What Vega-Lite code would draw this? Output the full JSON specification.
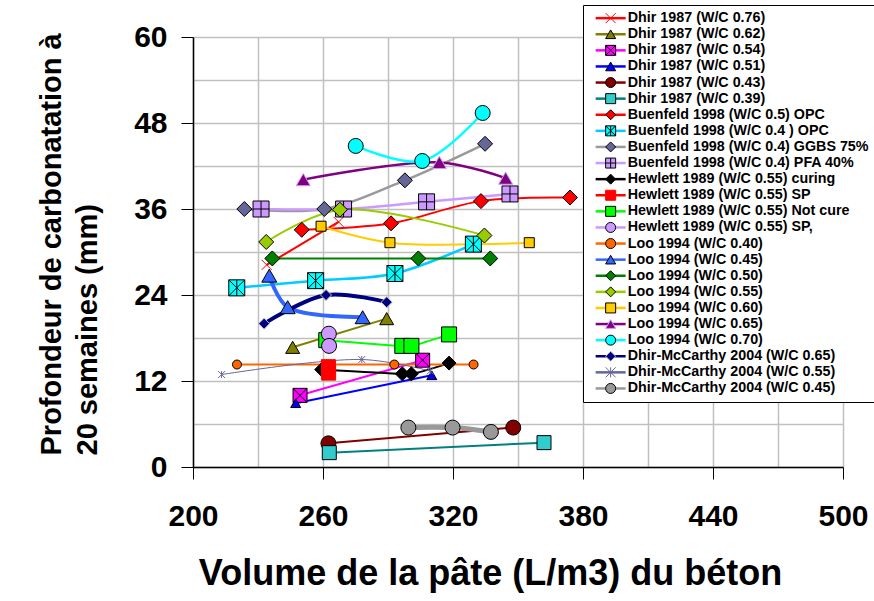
{
  "$schema": "https://vega.github.io/schema/vega-lite/v6.json",
  "width": 650,
  "height": 430,
  "autosize": {"type": "none"},
  "padding": {"left": 193, "top": 37, "right": 31, "bottom": 134},
  "background": "white",
  "config": {"view": {"stroke": null}, "font": "Liberation Sans"},
  "data": {"values": [
    {"series": "Dhir 1987 (W/C 0.76)", "name": "Dhir 1987 (W/C 0.76)", "x": 234.0, "y": 28.2},
    {"series": "Dhir 1987 (W/C 0.76)", "name": "Dhir 1987 (W/C 0.76)", "x": 267.2, "y": 34.2},
    {"series": "Dhir 1987 (W/C 0.62)", "name": "Dhir 1987 (W/C 0.62)", "x": 246.0, "y": 16.7},
    {"series": "Dhir 1987 (W/C 0.62)", "name": "Dhir 1987 (W/C 0.62)", "x": 289.4, "y": 20.7},
    {"series": "Dhir 1987 (W/C 0.54)", "name": "Dhir 1987 (W/C 0.54)", "x": 249.4, "y": 10.0},
    {"series": "Dhir 1987 (W/C 0.54)", "name": "Dhir 1987 (W/C 0.54)", "x": 306.0, "y": 14.9},
    {"series": "Dhir 1987 (W/C 0.51)", "name": "Dhir 1987 (W/C 0.51)", "x": 247.4, "y": 8.9},
    {"series": "Dhir 1987 (W/C 0.51)", "name": "Dhir 1987 (W/C 0.51)", "x": 310.2, "y": 12.8},
    {"series": "Dhir 1987 (W/C 0.43)", "name": "Dhir 1987 (W/C 0.43)", "x": 262.5, "y": 3.3},
    {"series": "Dhir 1987 (W/C 0.43)", "name": "Dhir 1987 (W/C 0.43)", "x": 347.8, "y": 5.5},
    {"series": "Dhir 1987 (W/C 0.39)", "name": "Dhir 1987 (W/C 0.39)", "x": 262.9, "y": 2.0},
    {"series": "Dhir 1987 (W/C 0.39)", "name": "Dhir 1987 (W/C 0.39)", "x": 362.0, "y": 3.4},
    {"series": "Buenfeld 1998 (W/C 0.5) OPC", "name": "Buenfeld 1998 (W/C 0.5) OPC", "x": 250.2, "y": 33.1},
    {"series": "Buenfeld 1998 (W/C 0.5) OPC", "name": "Buenfeld 1998 (W/C 0.5) OPC", "x": 291.4, "y": 34.0},
    {"series": "Buenfeld 1998 (W/C 0.5) OPC", "name": "Buenfeld 1998 (W/C 0.5) OPC", "x": 332.9, "y": 37.1},
    {"series": "Buenfeld 1998 (W/C 0.5) OPC", "name": "Buenfeld 1998 (W/C 0.5) OPC", "x": 374.0, "y": 37.6},
    {"series": "Buenfeld 1998 (W/C 0.4 ) OPC", "name": "Buenfeld 1998 (W/C 0.4 ) OPC", "x": 220.2, "y": 25.0},
    {"series": "Buenfeld 1998 (W/C 0.4 ) OPC", "name": "Buenfeld 1998 (W/C 0.4 ) OPC", "x": 256.6, "y": 26.0},
    {"series": "Buenfeld 1998 (W/C 0.4 ) OPC", "name": "Buenfeld 1998 (W/C 0.4 ) OPC", "x": 293.2, "y": 27.0},
    {"series": "Buenfeld 1998 (W/C 0.4 ) OPC", "name": "Buenfeld 1998 (W/C 0.4 ) OPC", "x": 329.4, "y": 31.1},
    {"series": "Buenfeld 1998 (W/C 0.4) GGBS 75%", "name": "Buenfeld 1998 (W/C 0.4) GGBS 75%", "x": 223.7, "y": 36.0},
    {"series": "Buenfeld 1998 (W/C 0.4) GGBS 75%", "name": "Buenfeld 1998 (W/C 0.4) GGBS 75%", "x": 260.6, "y": 36.0},
    {"series": "Buenfeld 1998 (W/C 0.4) GGBS 75%", "name": "Buenfeld 1998 (W/C 0.4) GGBS 75%", "x": 297.8, "y": 40.0},
    {"series": "Buenfeld 1998 (W/C 0.4) GGBS 75%", "name": "Buenfeld 1998 (W/C 0.4) GGBS 75%", "x": 334.8, "y": 45.1},
    {"series": "Buenfeld 1998 (W/C 0.4) PFA 40%", "name": "Buenfeld 1998 (W/C 0.4) PFA 40%", "x": 231.4, "y": 36.0},
    {"series": "Buenfeld 1998 (W/C 0.4) PFA 40%", "name": "Buenfeld 1998 (W/C 0.4) PFA 40%", "x": 269.5, "y": 36.0},
    {"series": "Buenfeld 1998 (W/C 0.4) PFA 40%", "name": "Buenfeld 1998 (W/C 0.4) PFA 40%", "x": 307.8, "y": 37.0},
    {"series": "Buenfeld 1998 (W/C 0.4) PFA 40%", "name": "Buenfeld 1998 (W/C 0.4) PFA 40%", "x": 346.3, "y": 38.1},
    {"series": "Hewlett 1989 (W/C 0.55) curing", "name": "Hewlett 1989 (W/C 0.55) curing", "x": 259.4, "y": 13.6},
    {"series": "Hewlett 1989 (W/C 0.55) curing", "name": "Hewlett 1989 (W/C 0.55) curing", "x": 296.6, "y": 13.0},
    {"series": "Hewlett 1989 (W/C 0.55) curing", "name": "Hewlett 1989 (W/C 0.55) curing", "x": 300.8, "y": 13.0},
    {"series": "Hewlett 1989 (W/C 0.55) curing", "name": "Hewlett 1989 (W/C 0.55) curing", "x": 318.2, "y": 14.5},
    {"series": "Hewlett 1989 (W/C 0.55) SP", "name": "Hewlett 1989 (W/C 0.55) SP", "x": 262.5, "y": 14.0},
    {"series": "Hewlett 1989 (W/C 0.55) SP", "name": "Hewlett 1989 (W/C 0.55) SP", "x": 262.6, "y": 13.1},
    {"series": "Hewlett 1989 (W/C 0.55) Not cure", "name": "Hewlett 1989 (W/C 0.55) Not cure", "x": 261.5, "y": 17.7},
    {"series": "Hewlett 1989 (W/C 0.55) Not cure", "name": "Hewlett 1989 (W/C 0.55) Not cure", "x": 296.6, "y": 16.9},
    {"series": "Hewlett 1989 (W/C 0.55) Not cure", "name": "Hewlett 1989 (W/C 0.55) Not cure", "x": 300.8, "y": 16.9},
    {"series": "Hewlett 1989 (W/C 0.55) Not cure", "name": "Hewlett 1989 (W/C 0.55) Not cure", "x": 318.2, "y": 18.5},
    {"series": "Hewlett 1989 (W/C 0.55) SP,", "name": "Hewlett 1989 (W/C 0.55) SP,", "x": 262.7, "y": 18.6},
    {"series": "Hewlett 1989 (W/C 0.55) SP,", "name": "Hewlett 1989 (W/C 0.55) SP,", "x": 262.8, "y": 16.9},
    {"series": "Loo 1994 (W/C 0.40)", "name": "Loo 1994 (W/C 0.40)", "x": 220.3, "y": 14.3},
    {"series": "Loo 1994 (W/C 0.40)", "name": "Loo 1994 (W/C 0.40)", "x": 292.9, "y": 14.3},
    {"series": "Loo 1994 (W/C 0.40)", "name": "Loo 1994 (W/C 0.40)", "x": 329.5, "y": 14.3},
    {"series": "Loo 1994 (W/C 0.45)", "name": "Loo 1994 (W/C 0.45)", "x": 235.2, "y": 26.7},
    {"series": "Loo 1994 (W/C 0.45)", "name": "Loo 1994 (W/C 0.45)", "x": 243.7, "y": 22.3},
    {"series": "Loo 1994 (W/C 0.45)", "name": "Loo 1994 (W/C 0.45)", "x": 278.3, "y": 20.9},
    {"series": "Loo 1994 (W/C 0.50)", "name": "Loo 1994 (W/C 0.50)", "x": 236.6, "y": 29.1},
    {"series": "Loo 1994 (W/C 0.50)", "name": "Loo 1994 (W/C 0.50)", "x": 304.0, "y": 29.1},
    {"series": "Loo 1994 (W/C 0.50)", "name": "Loo 1994 (W/C 0.50)", "x": 337.2, "y": 29.1},
    {"series": "Loo 1994 (W/C 0.55)", "name": "Loo 1994 (W/C 0.55)", "x": 233.8, "y": 31.4},
    {"series": "Loo 1994 (W/C 0.55)", "name": "Loo 1994 (W/C 0.55)", "x": 267.8, "y": 35.9},
    {"series": "Loo 1994 (W/C 0.55)", "name": "Loo 1994 (W/C 0.55)", "x": 334.5, "y": 32.3},
    {"series": "Loo 1994 (W/C 0.60)", "name": "Loo 1994 (W/C 0.60)", "x": 259.1, "y": 33.6},
    {"series": "Loo 1994 (W/C 0.60)", "name": "Loo 1994 (W/C 0.60)", "x": 290.9, "y": 31.3},
    {"series": "Loo 1994 (W/C 0.60)", "name": "Loo 1994 (W/C 0.60)", "x": 355.2, "y": 31.3},
    {"series": "Loo 1994 (W/C 0.65)", "name": "Loo 1994 (W/C 0.65)", "x": 250.9, "y": 40.1},
    {"series": "Loo 1994 (W/C 0.65)", "name": "Loo 1994 (W/C 0.65)", "x": 313.7, "y": 42.5},
    {"series": "Loo 1994 (W/C 0.65)", "name": "Loo 1994 (W/C 0.65)", "x": 344.3, "y": 40.3},
    {"series": "Loo 1994 (W/C 0.70)", "name": "Loo 1994 (W/C 0.70)", "x": 275.1, "y": 44.8},
    {"series": "Loo 1994 (W/C 0.70)", "name": "Loo 1994 (W/C 0.70)", "x": 305.8, "y": 42.7},
    {"series": "Loo 1994 (W/C 0.70)", "name": "Loo 1994 (W/C 0.70)", "x": 333.7, "y": 49.4},
    {"series": "Dhir-McCarthy 2004 (W/C 0.65)", "name": "Dhir-McCarthy 2004 (W/C 0.65)", "x": 232.8, "y": 20.0},
    {"series": "Dhir-McCarthy 2004 (W/C 0.65)", "name": "Dhir-McCarthy 2004 (W/C 0.65)", "x": 261.4, "y": 24.0},
    {"series": "Dhir-McCarthy 2004 (W/C 0.65)", "name": "Dhir-McCarthy 2004 (W/C 0.65)", "x": 289.4, "y": 23.0},
    {"series": "Dhir-McCarthy 2004 (W/C 0.55)", "name": "Dhir-McCarthy 2004 (W/C 0.55)", "x": 213.2, "y": 12.9},
    {"series": "Dhir-McCarthy 2004 (W/C 0.55)", "name": "Dhir-McCarthy 2004 (W/C 0.55)", "x": 277.9, "y": 15.0},
    {"series": "Dhir-McCarthy 2004 (W/C 0.55)", "name": "Dhir-McCarthy 2004 (W/C 0.55)", "x": 309.5, "y": 13.4},
    {"series": "Dhir-McCarthy 2004 (W/C 0.45)", "name": "Dhir-McCarthy 2004 (W/C 0.45)", "x": 299.4, "y": 5.5},
    {"series": "Dhir-McCarthy 2004 (W/C 0.45)", "name": "Dhir-McCarthy 2004 (W/C 0.45)", "x": 319.8, "y": 5.5},
    {"series": "Dhir-McCarthy 2004 (W/C 0.45)", "name": "Dhir-McCarthy 2004 (W/C 0.45)", "x": 337.5, "y": 4.9}
  ]},
  "encoding": {
    "x": {
      "field": "x", "type": "quantitative",
      "scale": {"domain": [200, 500], "nice": false, "zero": false},
      "axis": {
        "values": [200, 230, 260, 290, 320, 350, 380, 410, 440, 470, 500],
        "labelExpr": "datum.value % 60 == 20 ? datum.label : ''",
        "grid": true, "gridColor": "#c0c0c0", "gridWidth": 1.5,
        "domainColor": "black", "domainWidth": 1.5,
        "tickColor": "black", "tickSize": 12, "tickWidth": 1,
        "tickOpacity": {"condition": {"test": "datum.value % 60 == 20", "value": 1}, "value": 0},
        "labelFont": "Liberation Sans", "labelFontSize": 30, "labelFontWeight": "bold", "labelColor": "black",
        "labelPadding": 22, "labelFlush": false, "labelOverlap": false,
        "title": "Volume de la pâte (L/m3) du béton",
        "titleFont": "Liberation Sans", "titleFontSize": 36, "titleFontWeight": "bold", "titleColor": "black",
        "titleX": 297, "titleY": 117, "titleAlign": "center", "titleBaseline": "alphabetic"
      }
    },
    "y": {
      "field": "y", "type": "quantitative",
      "scale": {"domain": [0, 60], "nice": false},
      "axis": {
        "values": [0, 6, 12, 18, 24, 30, 36, 42, 48, 54, 60],
        "labelExpr": "datum.value % 12 == 0 ? datum.label : ''",
        "grid": true, "gridColor": "#c0c0c0", "gridWidth": 1.5,
        "domainColor": "black", "domainWidth": 1.5,
        "tickColor": "black", "tickSize": 12, "tickWidth": 1,
        "tickOpacity": {"condition": {"test": "datum.value % 12 == 0", "value": 1}, "value": 0},
        "labelFont": "Liberation Sans", "labelFontSize": 30, "labelFontWeight": "bold", "labelColor": "black",
        "labelPadding": 14, "labelFlush": false, "labelOverlap": false,
        "title": ["Profondeur de carbonatation à", "20 semaines (mm)"],
        "titleFont": "Liberation Sans", "titleFontSize": 29, "titleFontWeight": "bold", "titleColor": "black",
        "titleLineHeight": 36, "titleAngle": -90,
        "titleX": -142, "titleY": 418, "titleAlign": "left", "titleBaseline": "middle"
      }
    }
  },
  "layer": [
    {
      "mark": {"type": "line", "interpolate": "catmull-rom"},
      "encoding": {
        "color": {
          "field": "series", "type": "nominal",
          "sort": ["Dhir 1987 (W/C 0.76)", "Dhir 1987 (W/C 0.62)", "Dhir 1987 (W/C 0.54)", "Dhir 1987 (W/C 0.51)", "Dhir 1987 (W/C 0.43)", "Dhir 1987 (W/C 0.39)", "Buenfeld 1998 (W/C 0.5) OPC", "Buenfeld 1998 (W/C 0.4 ) OPC", "Buenfeld 1998 (W/C 0.4) GGBS 75%", "Buenfeld 1998 (W/C 0.4) PFA 40%", "Hewlett 1989 (W/C 0.55) curing", "Hewlett 1989 (W/C 0.55) SP", "Hewlett 1989 (W/C 0.55) Not cure", "Hewlett 1989 (W/C 0.55) SP,", "Loo 1994 (W/C 0.40)", "Loo 1994 (W/C 0.45)", "Loo 1994 (W/C 0.50)", "Loo 1994 (W/C 0.55)", "Loo 1994 (W/C 0.60)", "Loo 1994 (W/C 0.65)", "Loo 1994 (W/C 0.70)", "Dhir-McCarthy 2004 (W/C 0.65)", "Dhir-McCarthy 2004 (W/C 0.55)", "Dhir-McCarthy 2004 (W/C 0.45)"],
          "scale": {
            "range": ["#ff0000", "#808000", "#ff00ff", "#0000ff", "#800000", "#008080", "#ff0000", "#00ccff", "#999999", "#cc99ff", "#000000", "#ff0000", "#00ff00", "#cc99ff", "#ff6600", "#3366ff", "#008000", "#99cc00", "#ffcc00", "#800080", "#00ffff", "#000080", "#666699", "#999999"]
          },
          "legend": {
            "orient": "none", "legendX": 390, "legendY": -32, "title": null,
            "symbolType": "M-3,0H3", "symbolSize": 100, "symbolOffset": 14.5, "symbolStrokeWidth": 2.5,
            "labelOffset": 10, "labelLimit": 400,
            "labelFont": "Liberation Sans", "labelFontSize": 14.3, "labelFontWeight": "bold", "labelColor": "black",
            "rowPadding": 1.1, "padding": 6,
            "strokeColor": "black", "fillColor": "white", "zindex": 1
          }
        },
        "strokeWidth": {
          "field": "series", "type": "nominal",
          "sort": ["Dhir 1987 (W/C 0.76)", "Dhir 1987 (W/C 0.62)", "Dhir 1987 (W/C 0.54)", "Dhir 1987 (W/C 0.51)", "Dhir 1987 (W/C 0.43)", "Dhir 1987 (W/C 0.39)", "Buenfeld 1998 (W/C 0.5) OPC", "Buenfeld 1998 (W/C 0.4 ) OPC", "Buenfeld 1998 (W/C 0.4) GGBS 75%", "Buenfeld 1998 (W/C 0.4) PFA 40%", "Hewlett 1989 (W/C 0.55) curing", "Hewlett 1989 (W/C 0.55) SP", "Hewlett 1989 (W/C 0.55) Not cure", "Hewlett 1989 (W/C 0.55) SP,", "Loo 1994 (W/C 0.40)", "Loo 1994 (W/C 0.45)", "Loo 1994 (W/C 0.50)", "Loo 1994 (W/C 0.55)", "Loo 1994 (W/C 0.60)", "Loo 1994 (W/C 0.65)", "Loo 1994 (W/C 0.70)", "Dhir-McCarthy 2004 (W/C 0.65)", "Dhir-McCarthy 2004 (W/C 0.55)", "Dhir-McCarthy 2004 (W/C 0.45)"],
          "scale": {
            "type": "ordinal",
            "range": [2, 2, 2, 2, 2, 2, 2, 2.5, 2.5, 2.5, 2, 2, 2, 2, 2, 4, 2, 2, 2, 2.5, 2.5, 4, 1, 5]
          },
          "legend": null
        }
      }
    },
    {
      "mark": {"type": "point", "filled": true, "opacity": 1, "strokeWidth": 1},
      "encoding": {
        "shape": {
          "field": "name", "type": "nominal",
          "scale": {
            "domain": ["Dhir 1987 (W/C 0.76)", "Dhir 1987 (W/C 0.62)", "Dhir 1987 (W/C 0.54)", "Dhir 1987 (W/C 0.51)", "Dhir 1987 (W/C 0.43)", "Dhir 1987 (W/C 0.39)", "Buenfeld 1998 (W/C 0.5) OPC", "Buenfeld 1998 (W/C 0.4 ) OPC", "Buenfeld 1998 (W/C 0.4) GGBS 75%", "Buenfeld 1998 (W/C 0.4) PFA 40%", "Hewlett 1989 (W/C 0.55) curing", "Hewlett 1989 (W/C 0.55) SP", "Hewlett 1989 (W/C 0.55) Not cure", "Hewlett 1989 (W/C 0.55) SP,", "Loo 1994 (W/C 0.40)", "Loo 1994 (W/C 0.45)", "Loo 1994 (W/C 0.50)", "Loo 1994 (W/C 0.55)", "Loo 1994 (W/C 0.60)", "Loo 1994 (W/C 0.65)", "Loo 1994 (W/C 0.70)", "Dhir-McCarthy 2004 (W/C 0.65)", "Dhir-McCarthy 2004 (W/C 0.55)", "Dhir-McCarthy 2004 (W/C 0.45)"],
            "range": ["M-1,-1L1,1M-1,1L1,-1", "triangle-up", "M-1,-1H1V1H-1ZM-1,-1L1,1M-1,1L1,-1", "triangle-up", "circle", "square", "diamond", "M-1,-1H1V1H-1ZM-1,-1L1,1M-1,1L1,-1M0,-1V1", "diamond", "M-1,-1H1V1H-1ZM0,-1V1M-1,0H1", "diamond", "square", "square", "circle", "circle", "triangle-up", "diamond", "diamond", "square", "triangle-up", "circle", "diamond", "M-1,-1L1,1M-1,1L1,-1M0,-1V1", "circle"]
          },
          "legend": {
            "orient": "none", "legendX": 390, "legendY": -32, "title": null,
            "symbolSize": 100, "symbolOffset": 14.5, "symbolOpacity": 1, "symbolStrokeWidth": 1,
            "labelOffset": 10, "labelLimit": 400, "labelOpacity": 0,
            "labelFont": "Liberation Sans", "labelFontSize": 14.3, "labelFontWeight": "bold",
            "rowPadding": 1.1, "padding": 6, "zindex": 2
          }
        },
        "fill": {
          "field": "name", "type": "nominal",
          "scale": {
            "domain": ["Dhir 1987 (W/C 0.76)", "Dhir 1987 (W/C 0.62)", "Dhir 1987 (W/C 0.54)", "Dhir 1987 (W/C 0.51)", "Dhir 1987 (W/C 0.43)", "Dhir 1987 (W/C 0.39)", "Buenfeld 1998 (W/C 0.5) OPC", "Buenfeld 1998 (W/C 0.4 ) OPC", "Buenfeld 1998 (W/C 0.4) GGBS 75%", "Buenfeld 1998 (W/C 0.4) PFA 40%", "Hewlett 1989 (W/C 0.55) curing", "Hewlett 1989 (W/C 0.55) SP", "Hewlett 1989 (W/C 0.55) Not cure", "Hewlett 1989 (W/C 0.55) SP,", "Loo 1994 (W/C 0.40)", "Loo 1994 (W/C 0.45)", "Loo 1994 (W/C 0.50)", "Loo 1994 (W/C 0.55)", "Loo 1994 (W/C 0.60)", "Loo 1994 (W/C 0.65)", "Loo 1994 (W/C 0.70)", "Dhir-McCarthy 2004 (W/C 0.65)", "Dhir-McCarthy 2004 (W/C 0.55)", "Dhir-McCarthy 2004 (W/C 0.45)"],
            "range": ["transparent", "#808000", "#ff00ff", "#0000ff", "#800000", "#33cccc", "#ff0000", "#00ffff", "#666699", "#cc99ff", "#000000", "#ff0000", "#00ff00", "#cc99ff", "#ff6600", "#3366ff", "#008000", "#99cc00", "#ffcc00", "#800080", "#00ffff", "#000080", "transparent", "#999999"]
          },
          "legend": {
            "orient": "none", "legendX": 390, "legendY": -32, "title": null,
            "symbolSize": 100, "symbolOffset": 14.5, "symbolOpacity": 1, "symbolStrokeWidth": 1,
            "labelOffset": 10, "labelLimit": 400, "labelOpacity": 0,
            "labelFont": "Liberation Sans", "labelFontSize": 14.3, "labelFontWeight": "bold",
            "rowPadding": 1.1, "padding": 6, "zindex": 2
          }
        },
        "stroke": {
          "field": "name", "type": "nominal",
          "scale": {
            "domain": ["Dhir 1987 (W/C 0.76)", "Dhir 1987 (W/C 0.62)", "Dhir 1987 (W/C 0.54)", "Dhir 1987 (W/C 0.51)", "Dhir 1987 (W/C 0.43)", "Dhir 1987 (W/C 0.39)", "Buenfeld 1998 (W/C 0.5) OPC", "Buenfeld 1998 (W/C 0.4 ) OPC", "Buenfeld 1998 (W/C 0.4) GGBS 75%", "Buenfeld 1998 (W/C 0.4) PFA 40%", "Hewlett 1989 (W/C 0.55) curing", "Hewlett 1989 (W/C 0.55) SP", "Hewlett 1989 (W/C 0.55) Not cure", "Hewlett 1989 (W/C 0.55) SP,", "Loo 1994 (W/C 0.40)", "Loo 1994 (W/C 0.45)", "Loo 1994 (W/C 0.50)", "Loo 1994 (W/C 0.55)", "Loo 1994 (W/C 0.60)", "Loo 1994 (W/C 0.65)", "Loo 1994 (W/C 0.70)", "Dhir-McCarthy 2004 (W/C 0.65)", "Dhir-McCarthy 2004 (W/C 0.55)", "Dhir-McCarthy 2004 (W/C 0.45)"],
            "range": ["#ff0000", "#000000", "#000000", "#000000", "#000000", "#000000", "#000000", "#000000", "#000000", "#000000", "#000000", "#ff0000", "#000000", "#000000", "#000000", "#000000", "#000000", "#000000", "#000000", "#cc99ff", "#000000", "#c0c0c0", "#666699", "#000000"]
          },
          "legend": {
            "orient": "none", "legendX": 390, "legendY": -32, "title": null,
            "symbolSize": 100, "symbolOffset": 14.5, "symbolOpacity": 1, "symbolStrokeWidth": 1,
            "labelOffset": 10, "labelLimit": 400, "labelOpacity": 0,
            "labelFont": "Liberation Sans", "labelFontSize": 14.3, "labelFontWeight": "bold",
            "rowPadding": 1.1, "padding": 6, "zindex": 2
          }
        },
        "size": {
          "field": "name", "type": "nominal",
          "sort": ["Dhir 1987 (W/C 0.76)", "Dhir 1987 (W/C 0.62)", "Dhir 1987 (W/C 0.54)", "Dhir 1987 (W/C 0.51)", "Dhir 1987 (W/C 0.43)", "Dhir 1987 (W/C 0.39)", "Buenfeld 1998 (W/C 0.5) OPC", "Buenfeld 1998 (W/C 0.4 ) OPC", "Buenfeld 1998 (W/C 0.4) GGBS 75%", "Buenfeld 1998 (W/C 0.4) PFA 40%", "Hewlett 1989 (W/C 0.55) curing", "Hewlett 1989 (W/C 0.55) SP", "Hewlett 1989 (W/C 0.55) Not cure", "Hewlett 1989 (W/C 0.55) SP,", "Loo 1994 (W/C 0.40)", "Loo 1994 (W/C 0.45)", "Loo 1994 (W/C 0.50)", "Loo 1994 (W/C 0.55)", "Loo 1994 (W/C 0.60)", "Loo 1994 (W/C 0.65)", "Loo 1994 (W/C 0.70)", "Dhir-McCarthy 2004 (W/C 0.65)", "Dhir-McCarthy 2004 (W/C 0.55)", "Dhir-McCarthy 2004 (W/C 0.45)"],
          "scale": {
            "type": "ordinal",
            "range": [100, 196, 196, 100, 225, 196, 225, 256, 225, 256, 196, 196, 225, 225, 81, 225, 225, 225, 100, 196, 225, 121, 49, 225]
          },
          "legend": null
        }
      }
    }
  ]
}
